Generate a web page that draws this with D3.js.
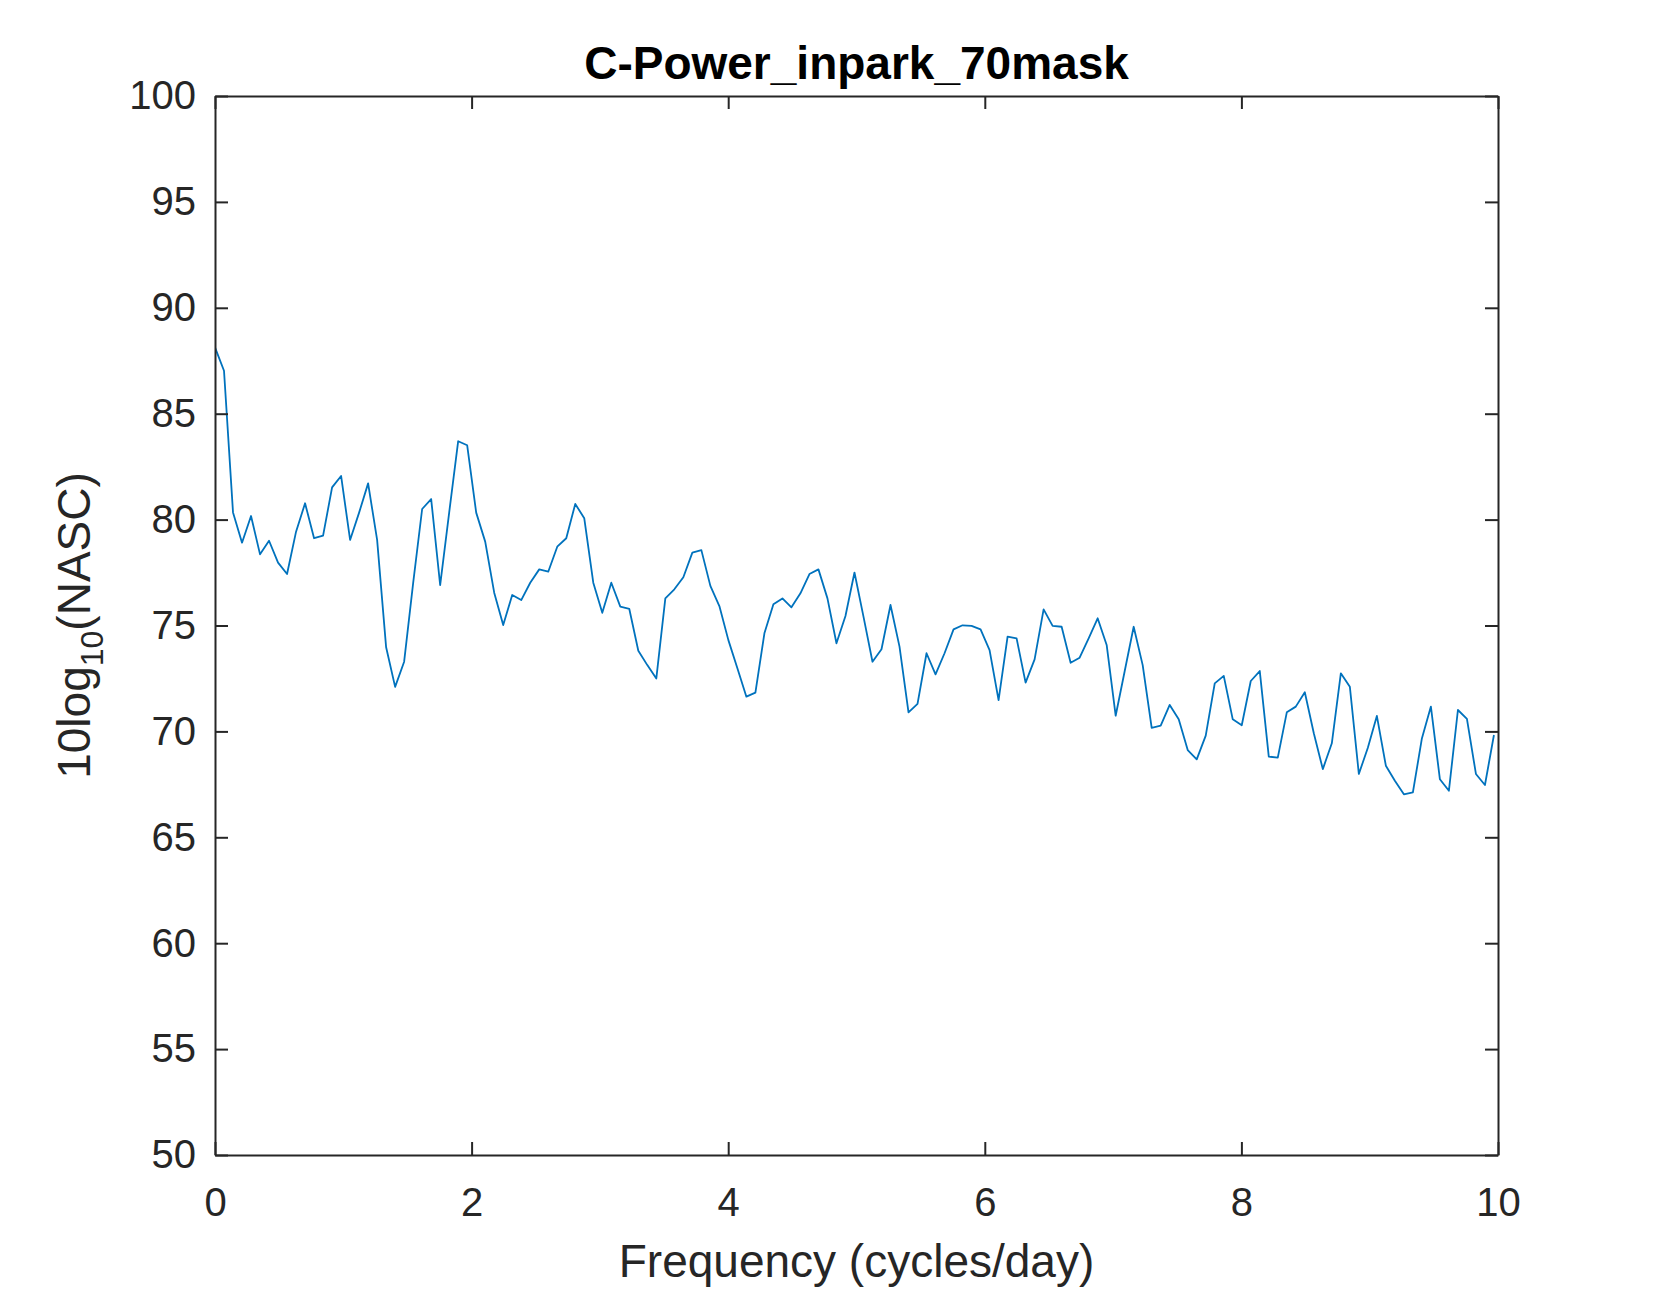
<!DOCTYPE html>
<html>
<head>
<meta charset="utf-8">
<script src="https://cdn.jsdelivr.net/npm/d3@7"></script>
<style>
  body { margin: 0; background: #fff; }
  svg { display: block; font-family: "Liberation Sans", Arial, Helvetica, sans-serif; }
</style>
</head>
<body>
<div id="my_dataviz"></div>
<script>

// data, one value per frequency bin
var freqStep = 0.0702;   // cycles/day between bins
var power = [
  88.13, 87.03, 80.34, 78.91, 80.17, 78.36, 79.00, 77.97, 77.43, 79.43,
  80.77, 79.12, 79.24, 81.52, 82.06, 79.04, 80.33, 81.71, 79.04, 73.97,
  72.10, 73.29, 77.00, 80.50, 80.97, 76.91, 80.33, 83.70, 83.51, 80.33,
  78.96, 76.55, 75.02, 76.44, 76.20, 77.02, 77.65, 77.54, 78.72, 79.12,
  80.74, 80.06, 77.02, 75.60, 77.02, 75.89, 75.78, 73.81, 73.13, 72.50,
  76.28, 76.71, 77.28, 78.44, 78.56, 76.87, 75.92, 74.31, 72.98, 71.64,
  71.83, 74.63, 76.00, 76.28, 75.86, 76.52, 77.43, 77.65, 76.28, 74.16,
  75.45, 77.50, 75.42, 73.29, 73.88, 75.97, 74.00, 70.90, 71.30, 73.69,
  72.69, 73.69, 74.82, 75.01, 74.98, 74.82, 73.84, 71.48, 74.47, 74.39,
  72.30, 73.40, 75.76, 74.98, 74.94, 73.24, 73.48, 74.39, 75.34, 74.08,
  70.74, 72.84, 74.94, 73.13, 70.17, 70.27, 71.25, 70.57, 69.12, 68.68,
  69.80, 72.27, 72.62, 70.57, 70.29, 72.38, 72.85, 68.81, 68.76, 70.90,
  71.17, 71.85, 69.91, 68.22, 69.44, 72.74, 72.11, 67.99, 69.23, 70.73,
  68.38, 67.67, 67.03, 67.12, 69.67, 71.17, 67.74, 67.20, 71.01, 70.59,
  67.99, 67.47, 69.83
];
var xTicks = [0, 2, 4, 6, 8, 10];
var yTicks = [50, 55, 60, 65, 70, 75, 80, 85, 90, 95, 100];

var titleText = "C-Power_inpark_70mask";
var xLabel = "Frequency (cycles/day)";

// set the dimensions and margins of the graph
var margin = {top: 96, right: 156, bottom: 144, left: 215},
    width = 1654 - margin.left - margin.right,
    height = 1299 - margin.top - margin.bottom;

var axisColor = "#262626",
    lineColor = "#0072BD",
    tickLen = 13;

var svg = d3.select("#my_dataviz")
  .append("svg")
    .attr("width", width + margin.left + margin.right)
    .attr("height", height + margin.top + margin.bottom);

svg.append("rect")
    .attr("width", "100%").attr("height", "100%")
    .attr("fill", "#fff");

var chart = svg.append("g")
    .attr("transform", "translate(" + margin.left + "," + margin.top + ")");

var x = d3.scaleLinear().domain([0, 10]).range([0, width]);
var y = d3.scaleLinear().domain([50, 100]).range([height, 0]);

// clip the line to the axes box
chart.append("clipPath").attr("id", "plotclip")
  .append("rect").attr("width", width).attr("height", height);

chart.append("path")
    .datum(power)
    .attr("clip-path", "url(#plotclip)")
    .attr("fill", "none")
    .attr("stroke", lineColor)
    .attr("stroke-width", 1.8)
    .attr("stroke-linejoin", "round")
    .attr("d", d3.line()
      .x(function(d, i) { return x(i * freqStep); })
      .y(function(d) { return y(d); }));

// axes, ticks pointing inwards on all four sides
function styleAxis(g) {
  g.select(".domain").attr("stroke", axisColor).attr("stroke-width", 2);
  g.selectAll(".tick line").attr("stroke", axisColor).attr("stroke-width", 2);
  g.selectAll(".tick text")
    .attr("fill", axisColor)
    .style("font-size", "40px");
}

chart.append("g")
    .attr("transform", "translate(0," + height + ")")
    .call(d3.axisBottom(x).tickValues(xTicks).tickSizeInner(-tickLen).tickSizeOuter(0).tickPadding(33))
    .call(styleAxis);

chart.append("g")
    .call(d3.axisTop(x).tickValues(xTicks).tickSizeInner(-tickLen).tickSizeOuter(0).tickFormat(""))
    .call(styleAxis);

chart.append("g")
    .call(d3.axisLeft(y).tickValues(yTicks).tickSizeInner(-tickLen).tickSizeOuter(0).tickPadding(19))
    .call(styleAxis);

chart.append("g")
    .attr("transform", "translate(" + width + ",0)")
    .call(d3.axisRight(y).tickValues(yTicks).tickSizeInner(-tickLen).tickSizeOuter(0).tickFormat(""))
    .call(styleAxis);

svg.selectAll(".tick text").attr("font-family", null);

// title
chart.append("text")
    .attr("x", width / 2)
    .attr("y", -17)
    .attr("text-anchor", "middle")
    .attr("fill", "#000")
    .style("font-size", "46px")
    .style("font-weight", "bold")
    .text(titleText);

// x label
chart.append("text")
    .attr("x", width / 2)
    .attr("y", height + 122)
    .attr("text-anchor", "middle")
    .attr("fill", axisColor)
    .style("font-size", "46px")
    .text(xLabel);

// y label with subscript
var yl = svg.append("text")
    .attr("transform", "translate(90," + (margin.top + height / 2) + ") rotate(-90)")
    .attr("text-anchor", "middle")
    .attr("fill", axisColor)
    .style("font-size", "46px");
yl.append("tspan").text("10log");
yl.append("tspan").attr("dy", 13).style("font-size", "32px").text("10");
yl.append("tspan").attr("dy", -13).text("(NASC)");

</script>
</body>
</html>
